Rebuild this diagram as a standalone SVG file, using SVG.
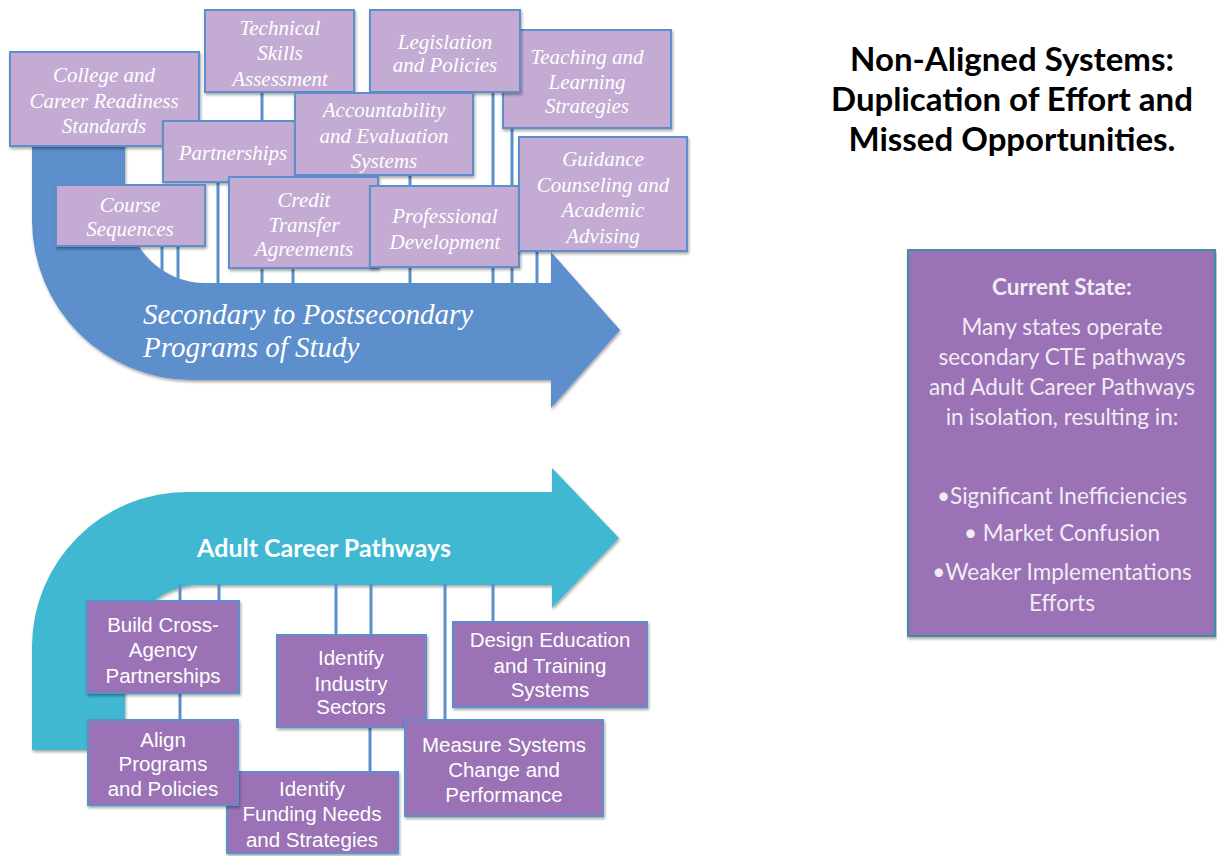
<svg xmlns="http://www.w3.org/2000/svg" width="1217" height="856" viewBox="0 0 1217 856">
<defs>
<filter id="sh" x="-10%" y="-10%" width="130%" height="140%">
<feDropShadow dx="1" dy="2" stdDeviation="1.5" flood-color="#000" flood-opacity="0.35"/>
</filter>
<style>
.tbox{fill:#C3ABD3;stroke:#5B8FCB;stroke-width:2;filter:url(#sh)}
.bbox{fill:#9A72B5;stroke:#5B8FCB;stroke-width:2;filter:url(#sh)}
.tt{font-family:"Liberation Serif",serif;font-style:italic;font-size:21px;fill:#fff;text-anchor:middle}
.bt{font-family:"Liberation Sans",Arial,sans-serif;font-size:20.5px;fill:#fff;text-anchor:middle}
.conn line{stroke:#5B8FCB;stroke-width:3}
.cs{font-family:Lato,"Liberation Sans",sans-serif;font-size:22.5px;fill:#F1ECF3;text-anchor:middle}
.ti{font-family:Lato,"Liberation Sans",sans-serif;font-weight:bold;font-size:33px;fill:#000;text-anchor:middle}
</style>
</defs>
<rect width="1217" height="856" fill="#fff"/>

<g id="arrow-secondary">
<path d="M 32 100 L 32 220 A 160 160 0 0 0 192 380 L 551 380 L 551 408 L 620 330 L 551 252 L 551 283 L 205 283 A 80 83 0 0 1 125 200 L 125 100 Z" fill="#5B8FCB" filter="url(#sh)"/>
<text x="143" y="324" font-family="Liberation Serif,serif" font-style="italic" font-size="29" fill="#fff">Secondary to Postsecondary</text>
<text x="143" y="357" font-family="Liberation Serif,serif" font-style="italic" font-size="29" fill="#fff">Programs of Study</text>
</g>

<g id="arrow-adult">
<path d="M 32 750 L 32 647 A 155 155 0 0 1 187 492 L 552 492 L 552 468 L 619 538 L 552 608 L 552 585 L 200 585 A 75 75 0 0 0 125 660 L 125 750 Z" fill="#41B8D2" filter="url(#sh)"/>
<text x="324" y="557" font-family="Lato,'Liberation Sans',sans-serif" font-weight="bold" font-size="25" fill="#fff" text-anchor="middle">Adult Career Pathways</text>
</g>

<g id="connectors" class="conn">
<line x1="162" y1="246" x2="162" y2="284"/>
<line x1="178" y1="246" x2="178" y2="284"/>
<line x1="218" y1="182" x2="218" y2="284"/>
<line x1="262" y1="92" x2="262" y2="284"/>
<line x1="293" y1="182" x2="293" y2="284"/>
<line x1="410" y1="175" x2="410" y2="284"/>
<line x1="493" y1="92" x2="493" y2="284"/>
<line x1="512" y1="128" x2="512" y2="284"/>
<line x1="537" y1="251" x2="537" y2="284"/>
<line x1="180" y1="584" x2="180" y2="601"/>
<line x1="219" y1="584" x2="219" y2="601"/>
<line x1="336" y1="584" x2="336" y2="635"/>
<line x1="371" y1="584" x2="371" y2="635"/>
<line x1="445" y1="584" x2="445" y2="720"/>
<line x1="493" y1="584" x2="493" y2="622"/>
<line x1="180" y1="693" x2="180" y2="720"/>
<line x1="370" y1="727" x2="370" y2="772"/>
</g>

<g id="college">
<rect class="tbox" x="10" y="52" width="189" height="94"/>
<text class="tt" x="104" y="82">College and</text>
<text class="tt" x="104" y="108">Career Readiness</text>
<text class="tt" x="104" y="133">Standards</text>
</g>
<g id="technical">
<rect class="tbox" x="205" y="10" width="149" height="82"/>
<text class="tt" x="280" y="35">Technical</text>
<text class="tt" x="280" y="60">Skills</text>
<text class="tt" x="280" y="86">Assessment</text>
</g>
<g id="teaching">
<rect class="tbox" x="503" y="30" width="168" height="98"/>
<text class="tt" x="587" y="64">Teaching and</text>
<text class="tt" x="587" y="89">Learning</text>
<text class="tt" x="587" y="113">Strategies</text>
</g>
<g id="legislation">
<rect class="tbox" x="370" y="10" width="150" height="82"/>
<text class="tt" x="445" y="49">Legislation</text>
<text class="tt" x="445" y="72">and Policies</text>
</g>
<g id="partnerships">
<rect class="tbox" x="163" y="121" width="150" height="61"/>
<text class="tt" x="233" y="160">Partnerships</text>
</g>
<g id="accountability">
<rect class="tbox" x="295" y="93" width="178" height="82"/>
<text class="tt" x="384" y="117">Accountability</text>
<text class="tt" x="384" y="143">and Evaluation</text>
<text class="tt" x="384" y="168">Systems</text>
</g>
<g id="course">
<rect class="tbox" x="56" y="185" width="149" height="61"/>
<text class="tt" x="130" y="212">Course</text>
<text class="tt" x="130" y="236">Sequences</text>
</g>
<g id="credit">
<rect class="tbox" x="229" y="177" width="149" height="91"/>
<text class="tt" x="304" y="207">Credit</text>
<text class="tt" x="304" y="232">Transfer</text>
<text class="tt" x="304" y="256">Agreements</text>
</g>
<g id="profdev">
<rect class="tbox" x="370" y="186" width="149" height="81"/>
<text class="tt" x="445" y="223">Professional</text>
<text class="tt" x="445" y="249">Development</text>
</g>
<g id="guidance">
<rect class="tbox" x="519" y="137" width="168" height="114"/>
<text class="tt" x="603" y="166">Guidance</text>
<text class="tt" x="603" y="192">Counseling and</text>
<text class="tt" x="603" y="217">Academic</text>
<text class="tt" x="603" y="243">Advising</text>
</g>

<g id="build">
<rect class="bbox" x="87" y="601" width="152" height="92"/>
<text class="bt" x="163" y="632">Build Cross-</text>
<text class="bt" x="163" y="657">Agency</text>
<text class="bt" x="163" y="683">Partnerships</text>
</g>
<g id="industry">
<rect class="bbox" x="277" y="635" width="149" height="92"/>
<text class="bt" x="351" y="665">Identify</text>
<text class="bt" x="351" y="691">Industry</text>
<text class="bt" x="351" y="714">Sectors</text>
</g>
<g id="design">
<rect class="bbox" x="453" y="622" width="194" height="85"/>
<text class="bt" x="550" y="647">Design Education</text>
<text class="bt" x="550" y="673">and Training</text>
<text class="bt" x="550" y="697">Systems</text>
</g>
<g id="funding">
<rect class="bbox" x="227" y="772" width="171" height="81"/>
<text class="bt" x="312" y="796">Identify</text>
<text class="bt" x="312" y="821">Funding Needs</text>
<text class="bt" x="312" y="847">and Strategies</text>
</g>
<g id="align">
<rect class="bbox" x="88" y="720" width="150" height="85"/>
<text class="bt" x="163" y="747">Align</text>
<text class="bt" x="163" y="771">Programs</text>
<text class="bt" x="163" y="796">and Policies</text>
</g>
<g id="measure">
<rect class="bbox" x="405" y="720" width="198" height="96"/>
<text class="bt" x="504" y="752">Measure Systems</text>
<text class="bt" x="504" y="777">Change and</text>
<text class="bt" x="504" y="802">Performance</text>
</g>

<g id="title">
<text class="ti" x="1012" y="71">Non-Aligned Systems:</text>
<text class="ti" x="1012" y="111">Duplication of Effort and</text>
<text class="ti" x="1012" y="151">Missed Opportunities.</text>
</g>

<g id="current-state">
<rect x="908" y="250" width="307" height="386" fill="#9A72B5" stroke="#3C8E9E" stroke-width="2" filter="url(#sh)"/>
<text class="cs" x="1062" y="295" font-weight="bold">Current State:</text>
<text class="cs" x="1062" y="335">Many states operate</text>
<text class="cs" x="1062" y="365">secondary CTE pathways</text>
<text class="cs" x="1062" y="395">and Adult Career Pathways</text>
<text class="cs" x="1062" y="425">in isolation, resulting in:</text>
<text class="cs" x="1062" y="504">•Significant Inefficiencies</text>
<text class="cs" x="1062" y="541">• Market Confusion</text>
<text class="cs" x="1062" y="580">•Weaker Implementations</text>
<text class="cs" x="1062" y="611">Efforts</text>
</g>
</svg>
